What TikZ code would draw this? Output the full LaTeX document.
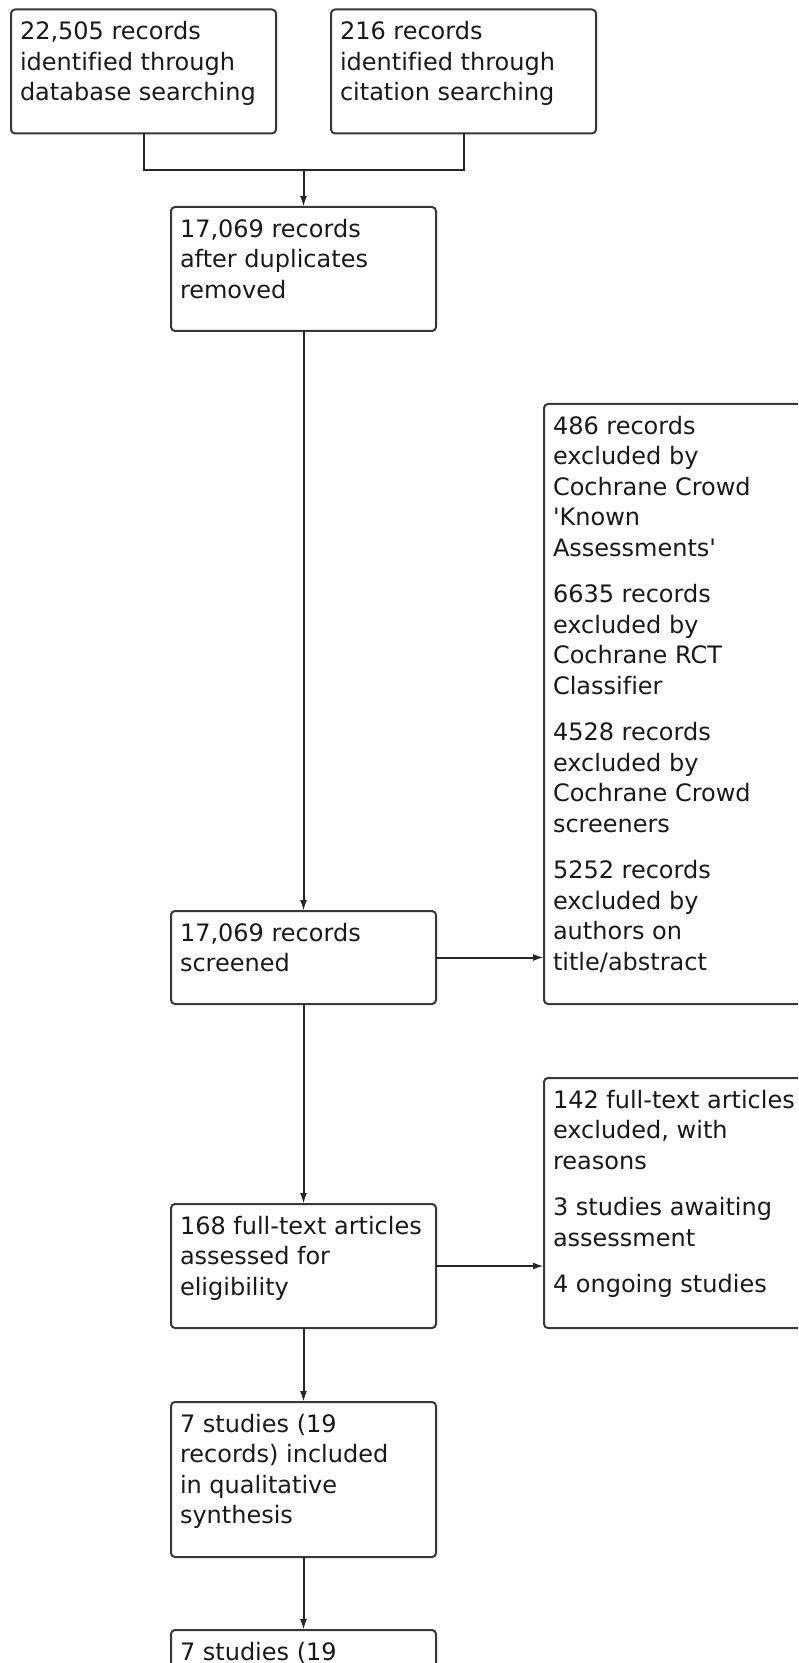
\documentclass[tikz,border=0pt]{standalone}
\usepackage{fontspec}
\setmainfont{DejaVu Sans}[Ligatures=NoCommon]
\usetikzlibrary{calc,
	positioning,
	arrows.meta}
\def\boxtext#1#2#3{\parbox[t][#1][t]{#2}{\raggedright\vspace*{1.5pt}#3}}

\tikzset{
	flowbox/.style={draw=black!78, line width=1pt, rounded corners=2pt, anchor=north west,
		inner xsep=4.5pt, inner ysep=4.6pt, outer sep=0pt, text=black!90,
		font=\fontsize{12}{15.25}\selectfont},
	flowline/.style={draw=black!85, line width=1pt},
	flowarrow/.style={flowline, -{Latex[length=5.5pt,width=3.5pt]}}
}

\begin{document}
\begin{tikzpicture}[x=0.5pt, y=-0.5pt]
	\useasboundingbox (0,0) rectangle (798,1663);
	\clip (0,0) rectangle (798,1663);
	% identification
	\node[flowbox] (dbsearch) at (11,9.5) {\boxtext{52.8pt}{123.5pt}{22,505 records\\identified through\\database searching}};
	\node[flowbox] (citesearch) at (331,9.5) {\boxtext{52.8pt}{123.5pt}{216 records\\identified through\\citation searching}};
	\node[flowbox] (dedup) at (171,207) {\boxtext{52.8pt}{123.5pt}{17,069 records\\after duplicates\\removed}};
	% screening
	\node[flowbox] (screened) at (171,911) {\boxtext{37.3pt}{123.5pt}{17,069 records\\screened}};
	\node[flowbox] (excluded) at (544,404) {\boxtext{290.8pt}{136pt}{486 records\\excluded by\\Cochrane Crowd\\\textquotesingle Known\\Assessments\textquotesingle\\[8pt]
		6635 records\\excluded by\\Cochrane RCT\\Classifier\\[8pt]
		4528 records\\excluded by\\Cochrane Crowd\\screeners\\[8pt]
		5252 records\\excluded by\\authors on\\title/abstract}};
	% eligibility
	\node[flowbox] (fulltext) at (171,1204) {\boxtext{52.8pt}{123.5pt}{168 full-text articles\\assessed for\\eligibility}};
	\node[flowbox] (ftexcl) at (544,1078) {\boxtext{115.8pt}{136pt}{142 full-text articles\\excluded, with\\reasons\\[8pt]
		3 studies awaiting\\assessment\\[8pt]
		4 ongoing studies}};
	% included
	\node[flowbox] (qual) at (171,1402) {\boxtext{68.3pt}{123.5pt}{7 studies (19\\records) included\\in qualitative\\synthesis}};
	\node[flowbox] (quant) at (171,1630) {\boxtext{68.3pt}{123.5pt}{7 studies (19}};

	\coordinate (merge) at ($(dbsearch.south)!0.5!(citesearch.south) + (0,37)$);
	\draw[flowline] (dbsearch.south) |- (merge) -| (citesearch.south);
	\draw[flowarrow] (merge) -- (dedup.north);
	\draw[flowarrow] (dedup.south) -- (screened.north);
	\draw[flowarrow] (screened.east) -- (screened.east -| excluded.west);
	\draw[flowarrow] (screened.south) -- (fulltext.north);
	\draw[flowarrow] (fulltext.east) -- (fulltext.east -| ftexcl.west);
	\draw[flowarrow] (fulltext.south) -- (qual.north);
	\draw[flowarrow] (qual.south) -- (quant.north);
\end{tikzpicture}
\end{document}
